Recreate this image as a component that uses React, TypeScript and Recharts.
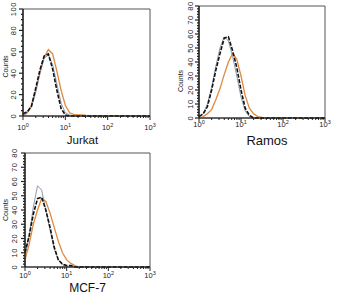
import { LineChart, Line, XAxis, YAxis, ReferenceArea } from 'recharts'

// fluorescence channel (log scale), shared by all three histograms
const FL = [1, 1.26, 1.58, 2, 2.51, 3.16, 3.98, 5.01, 6.31, 7.94, 10, 12.6, 15.8, 20, 25.1, 31.6, 100, 1000]

const jurkatIso = [2, 4, 9, 26, 43, 56, 58, 44, 24, 7, 1, 0, 0, 0, 0, 0, 0, 0]
const jurkatCtrl = [1, 3, 8, 22, 40, 54, 57, 48, 30, 12, 3, 1, 0, 0, 0, 0, 0, 0]
const jurkatAb = [0, 3, 10, 24, 40, 55, 62, 58, 42, 24, 10, 3, 1.5, 1, 1, 0.5, 0, 0]

const ramosIso = [1, 3, 8, 20, 34, 46, 57, 58, 48, 36, 20, 7, 2, 0, 0, 0, 0, 0]
const ramosCtrl = [1, 3, 10, 22, 37, 50, 58, 55, 44, 30, 15, 5, 1, 0, 0, 0, 0, 0]
const ramosAb = [0, 1, 3, 6, 13, 21, 31, 40, 46, 42, 30, 16, 7, 3, 1, 0.5, 0, 0]

const mcfIso = [10, 22, 37, 48, 49, 40, 28, 14, 5, 2, 1, 1, 0, 0, 0, 0, 0, 0]
const mcfCtrl = [8, 22, 42, 57, 54, 40, 26, 13, 5, 1.5, 0.5, 0, 0, 0, 0, 0, 0, 0]
const mcfAb = [5, 16, 30, 40, 48, 46, 38, 28, 18, 10, 5, 2.5, 1, 0, 0, 0, 0, 0]

const X_TICKS: number[] = []
for (let d = 0; d < 3; d++) for (let k = 1; k <= 9; k++) X_TICKS.push(k * Math.pow(10, d))
X_TICKS.push(1000)

const FONT = '"Liberation Sans", Arial, sans-serif'
const INK = '#222'

const toPoints = (ys: number[]) => FL.map((x, i) => ({ x, y: ys[i] }))

function XTick({ x, y, payload, labelDy }: any) {
  const exp = Math.log10(payload.value)
  const major = Math.abs(exp - Math.round(exp)) < 1e-6
  return (
    <g>
      <line x1={x} x2={x} y1={y} y2={y + (major ? 4 : 2)} stroke={INK} strokeWidth={1} />
      {major && (
        <text x={x} y={y + labelDy} textAnchor="middle" fontSize={7.5} fill={INK} fontFamily={FONT}>
          10<tspan dy={-3} fontSize={5.5}>{Math.round(exp)}</tspan>
        </text>
      )}
    </g>
  )
}

function YTick({ x, y, payload, step, off }: any) {
  const major = payload.value % step === 0
  const bx = x - off
  return (
    <g>
      <line x1={x} x2={x - (major ? 4 : 2)} y1={y} y2={y} stroke={INK} strokeWidth={1.2} />
      {major && (
        <text
          x={bx}
          y={y}
          transform={`rotate(-90 ${bx} ${y})`}
          textAnchor="middle"
          fontSize={7.5}
          letterSpacing={0.6}
          fill={INK}
          fontFamily={FONT}
        >
          {payload.value}
        </text>
      )}
    </g>
  )
}

interface PanelProps {
  left: number
  top: number
  width: number
  height: number
  marginTop: number
  marginRight: number
  yAxisWidth: number
  xAxisHeight: number
  yMax: number
  minorStep: number
  labelStep: number
  yLabelOff: number
  xLabelDy: number
  countsX: number
  countsDy: number
  name: string
  nameSize: number
  nameDx: number
  nameBase: number
  iso: number[]
  ctrl: number[]
  ab: number[]
}

function Panel(p: PanelProps) {
  const yTicks: number[] = []
  for (let v = 0; v <= p.yMax; v += p.minorStep) yTicks.push(v)

  return (
    <div style={{ position: 'absolute', left: p.left, top: p.top }}>
      <LineChart
        width={p.width}
        height={p.height}
        margin={{ top: p.marginTop, right: p.marginRight, left: 0, bottom: 0 }}
      >
        <XAxis
          dataKey="x"
          type="number"
          scale="log"
          domain={[1, 1000]}
          ticks={X_TICKS}
          interval={0}
          tickSize={0}
          tickMargin={0}
          height={p.xAxisHeight}
          axisLine={{ stroke: INK, strokeWidth: 1.2 }}
          tickLine={false}
          tick={(t: any) => <XTick {...t} labelDy={p.xLabelDy} />}
          label={{
            content: ({ viewBox }: any) => (
              <text
                x={viewBox.x + viewBox.width / 2 + p.nameDx}
                y={viewBox.y + p.nameBase}
                textAnchor="middle"
                fontSize={p.nameSize}
                fill="#111"
                fontFamily={FONT}
              >
                {p.name}
              </text>
            ),
          }}
        />
        <YAxis
          type="number"
          domain={[0, p.yMax]}
          ticks={yTicks}
          interval={0}
          tickSize={0}
          tickMargin={0}
          width={p.yAxisWidth}
          axisLine={{ stroke: INK, strokeWidth: 1.4 }}
          tickLine={false}
          tick={(t: any) => <YTick {...t} step={p.labelStep} off={p.yLabelOff} />}
          label={{
            content: ({ viewBox }: any) => {
              const cx = viewBox.x + p.countsX
              const cy = viewBox.y + viewBox.height / 2 + p.countsDy
              return (
                <text
                  x={cx}
                  y={cy}
                  transform={`rotate(-90 ${cx} ${cy})`}
                  textAnchor="middle"
                  fontSize={7}
                  fill={INK}
                  fontFamily={FONT}
                >
                  Counts
                </text>
              )
            },
          }}
        />
        <ReferenceArea x1={1} x2={1000} y1={0} y2={p.yMax} fill="none" stroke="#555" strokeWidth={1} />
        <Line
          data={toPoints(p.ab)}
          dataKey="y"
          type="linear"
          stroke="#e0883e"
          strokeWidth={1.3}
          dot={false}
          isAnimationActive={false}
        />
        <Line
          data={toPoints(p.ctrl)}
          dataKey="y"
          type="linear"
          stroke="#8d9aab"
          strokeWidth={1}
          dot={false}
          isAnimationActive={false}
        />
        <Line
          data={toPoints(p.iso)}
          dataKey="y"
          type="linear"
          stroke="#111"
          strokeWidth={1.6}
          strokeDasharray="4 1.5"
          dot={false}
          isAnimationActive={false}
        />
      </LineChart>
    </div>
  )
}

export default function App() {
  return (
    <div style={{ position: 'absolute', left: 0, top: 0, width: 346, height: 295, background: '#fff', overflow: 'hidden' }}>
      <Panel
        left={0} top={0} width={160} height={150}
        marginTop={9} marginRight={10} yAxisWidth={23} xAxisHeight={34}
        yMax={100} minorStep={5} labelStep={20} yLabelOff={7} xLabelDy={14}
        countsX={7.5} countsDy={4}
        name="Jurkat" nameSize={11.5} nameDx={-4} nameBase={28}
        iso={jurkatIso} ctrl={jurkatCtrl} ab={jurkatAb}
      />
      <Panel
        left={176} top={0} width={160} height={150}
        marginTop={6} marginRight={11} yAxisWidth={23} xAxisHeight={32}
        yMax={80} minorStep={2} labelStep={10} yLabelOff={6} xLabelDy={9}
        countsX={7} countsDy={19}
        name="Ramos" nameSize={13} nameDx={5} nameBase={27}
        iso={ramosIso} ctrl={ramosCtrl} ab={ramosAb}
      />
      <Panel
        left={0} top={140} width={160} height={155}
        marginTop={13} marginRight={10} yAxisWidth={25} xAxisHeight={28}
        yMax={80} minorStep={2} labelStep={10} yLabelOff={8} xLabelDy={11}
        countsX={8} countsDy={0}
        name="MCF-7" nameSize={12} nameDx={0} nameBase={25}
        iso={mcfIso} ctrl={mcfCtrl} ab={mcfAb}
      />
    </div>
  )
}
